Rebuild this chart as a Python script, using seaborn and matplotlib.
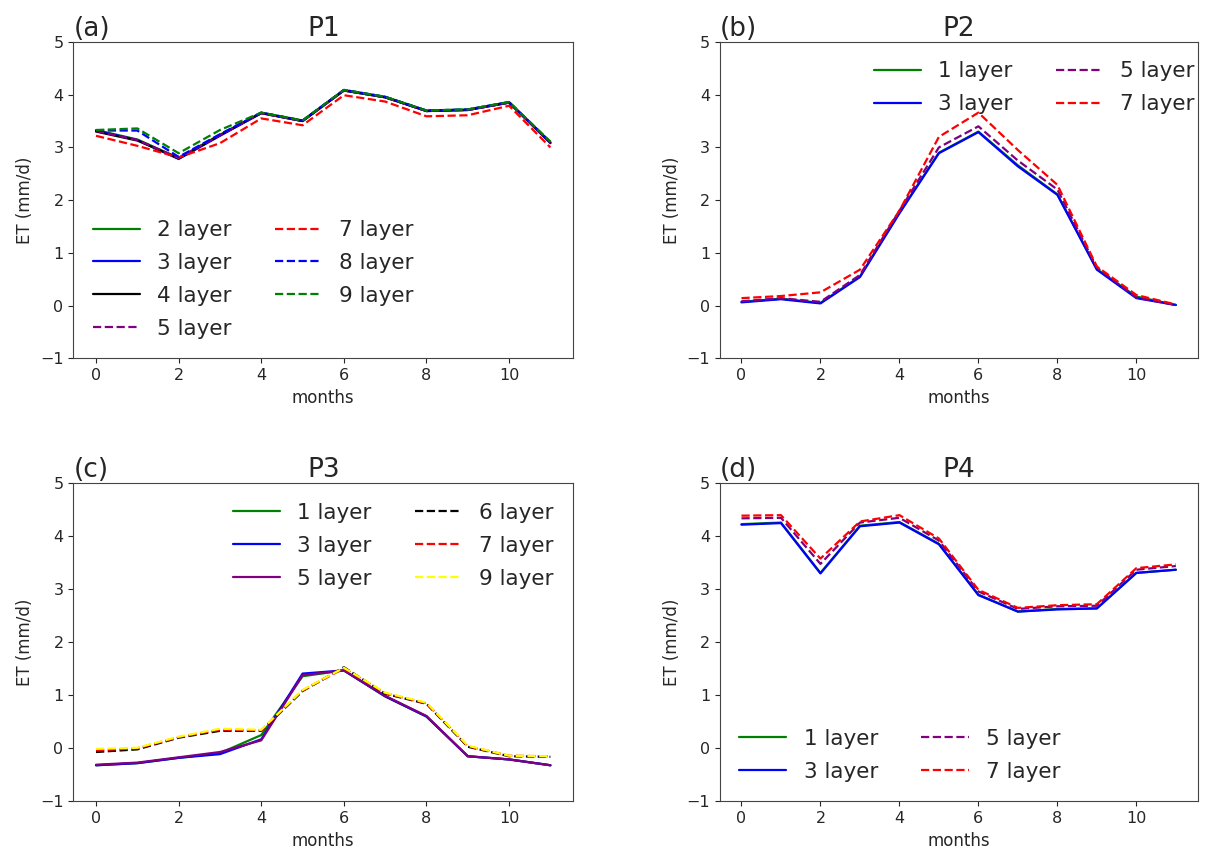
import numpy as np
import pandas as pd
import seaborn as sns
import matplotlib
matplotlib.use("Agg")
import matplotlib.pyplot as plt

months = np.arange(12)

# P1
p1_2 = [3.33, 3.15, 2.80, 3.24, 3.66, 3.51, 4.09, 3.96, 3.70, 3.72, 3.86, 3.10]
p1_3 = [3.32, 3.14, 2.78, 3.22, 3.65, 3.50, 4.08, 3.95, 3.69, 3.71, 3.85, 3.08]
p1_4 = [3.30, 3.13, 2.79, 3.23, 3.65, 3.50, 4.08, 3.95, 3.69, 3.71, 3.85, 3.09]
p1_5 = [3.31, 3.14, 2.80, 3.23, 3.65, 3.50, 4.08, 3.95, 3.69, 3.71, 3.85, 3.09]
p1_7 = [3.22, 3.03, 2.81, 3.08, 3.55, 3.42, 3.99, 3.87, 3.59, 3.61, 3.79, 3.00]
p1_8 = [3.32, 3.32, 2.82, 3.25, 3.66, 3.51, 4.09, 3.96, 3.70, 3.72, 3.86, 3.10]
p1_9 = [3.33, 3.36, 2.89, 3.33, 3.66, 3.51, 4.09, 3.96, 3.70, 3.72, 3.86, 3.11]

# P2
p2_1 = [0.07, 0.13, 0.05, 0.55, 1.76, 2.90, 3.30, 2.66, 2.11, 0.69, 0.17, 0.01]
p2_3 = [0.06, 0.12, 0.04, 0.54, 1.75, 2.89, 3.29, 2.64, 2.10, 0.68, 0.14, 0.01]
p2_5 = [0.08, 0.14, 0.07, 0.58, 1.80, 3.00, 3.40, 2.75, 2.20, 0.72, 0.15, 0.01]
p2_7 = [0.14, 0.18, 0.25, 0.68, 1.80, 3.20, 3.66, 2.95, 2.29, 0.74, 0.20, 0.02]

# P3
p3_1 = [-0.32, -0.28, -0.18, -0.09, 0.25, 1.36, 1.47, 0.98, 0.60, -0.15, -0.21, -0.32]
p3_3 = [-0.32, -0.28, -0.18, -0.11, 0.17, 1.41, 1.47, 0.98, 0.60, -0.15, -0.21, -0.32]
p3_5 = [-0.31, -0.27, -0.17, -0.07, 0.15, 1.38, 1.47, 0.99, 0.61, -0.15, -0.21, -0.32]
p3_6 = [-0.07, -0.02, 0.20, 0.33, 0.33, 1.08, 1.53, 1.03, 0.84, 0.03, -0.15, -0.16]
p3_7 = [-0.04, 0.00, 0.21, 0.35, 0.34, 1.09, 1.51, 1.04, 0.85, 0.04, -0.14, -0.15]
p3_9 = [-0.01, 0.01, 0.22, 0.37, 0.35, 1.10, 1.52, 1.05, 0.86, 0.05, -0.14, -0.15]

# P4
p4_1 = [4.23, 4.26, 3.31, 4.20, 4.27, 3.86, 2.90, 2.58, 2.63, 2.64, 3.31, 3.37]
p4_3 = [4.22, 4.25, 3.30, 4.19, 4.26, 3.85, 2.89, 2.58, 2.62, 2.64, 3.31, 3.37]
p4_5 = [4.34, 4.35, 3.48, 4.26, 4.35, 3.92, 2.96, 2.63, 2.68, 2.69, 3.37, 3.44]
p4_7 = [4.39, 4.40, 3.58, 4.28, 4.40, 3.96, 2.99, 2.65, 2.70, 2.72, 3.40, 3.47]

panels = [
    ("(a)", "P1", dict(loc="lower left"), [
        ("2 layer", p1_2, "green", "-"),
        ("3 layer", p1_3, "blue", "-"),
        ("4 layer", p1_4, "black", "-"),
        ("5 layer", p1_5, "purple", "--"),
        ("7 layer", p1_7, "red", "--"),
        ("8 layer", p1_8, "blue", "--"),
        ("9 layer", p1_9, "green", "--"),
    ]),
    ("(b)", "P2", dict(loc="upper right", bbox_to_anchor=(1.035, 1.0)), [
        ("1 layer", p2_1, "green", "-"),
        ("3 layer", p2_3, "blue", "-"),
        ("5 layer", p2_5, "purple", "--"),
        ("7 layer", p2_7, "red", "--"),
    ]),
    ("(c)", "P3", dict(loc="upper right"), [
        ("1 layer", p3_1, "green", "-"),
        ("3 layer", p3_3, "blue", "-"),
        ("5 layer", p3_5, "purple", "-"),
        ("6 layer", p3_6, "black", "--"),
        ("7 layer", p3_7, "red", "--"),
        ("9 layer", p3_9, "yellow", "--"),
    ]),
    ("(d)", "P4", dict(loc="lower left"), [
        ("1 layer", p4_1, "green", "-"),
        ("3 layer", p4_3, "blue", "-"),
        ("5 layer", p4_5, "purple", "--"),
        ("7 layer", p4_7, "red", "--"),
    ]),
]

sns.set_style("ticks")
plt.rcParams['font.family'] = ['DejaVu Sans']

fig = plt.figure(figsize=(12.22, 8.57), dpi=100)
rects = [
    [0.060, 0.582, 0.409, 0.369],
    [0.589, 0.582, 0.391, 0.369],
    [0.060, 0.065, 0.409, 0.371],
    [0.589, 0.065, 0.391, 0.371],
]

for rect, (tag, name, leg_kw, series) in zip(rects, panels):
    ax = fig.add_axes(rect)
    for label, vals, color, ls in series:
        df = pd.DataFrame({"months": months, "ET": vals})
        sns.lineplot(data=df, x="months", y="ET", ax=ax, color=color,
                     linestyle=ls, linewidth=1.6, label=label)
    ax.set_ylim(-1, 5)
    ax.set_yticks(range(-1, 6))
    ax.set_xticks(range(0, 12, 2))
    ax.set_xlabel("months", fontsize=12)
    ax.set_ylabel("ET (mm/d)", fontsize=12)
    ax.tick_params(labelsize=11.5)
    ax.set_title(name, fontsize=19, pad=4)
    ax.set_title(tag, loc="left", fontsize=19, pad=4)
    for s in ax.spines.values():
        s.set_color("#444444")
    ax.legend(ncol=2, frameon=False, fontsize=15.5, columnspacing=2.0,
              handlelength=2.2, labelspacing=0.6, **leg_kw)

fig.savefig("out.png", dpi=100)
